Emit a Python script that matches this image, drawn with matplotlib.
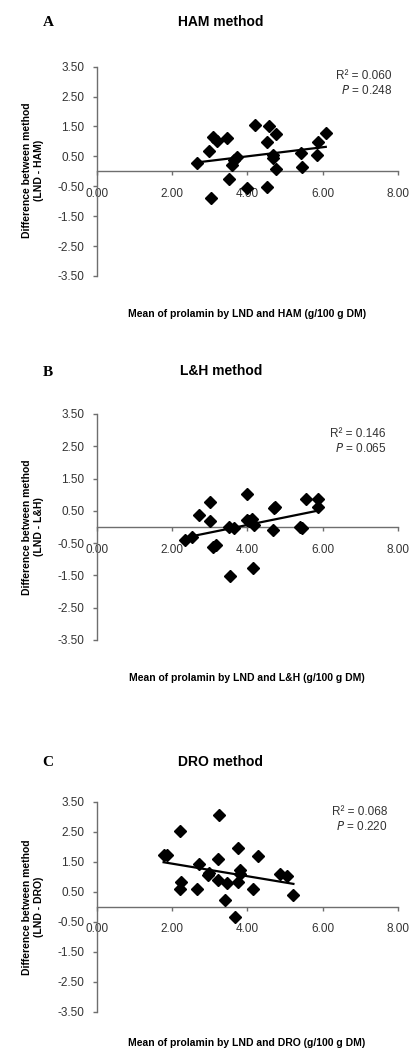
import numpy as np
import matplotlib
matplotlib.use('Agg')
import matplotlib.pyplot as plt

plt.rcParams['font.family'] = ['Liberation Sans', 'DejaVu Sans']

W, H = 410, 1052

# panel A: LND - HAM
ham_x = [2.65, 2.99, 3.09, 3.18, 3.45, 3.02, 3.52, 3.58, 3.63, 3.71, 3.98, 4.20,
         4.51, 4.51, 4.58, 4.76, 4.67, 4.69, 4.76, 5.42, 5.44, 5.85, 5.88, 6.08]
ham_y = [0.27, 0.68, 1.16, 1.02, 1.11, -0.90, -0.26, 0.21, 0.38, 0.49, -0.57, 1.55,
         -0.54, 0.99, 1.52, 1.25, 0.55, 0.43, 0.07, 0.60, 0.16, 0.55, 0.99, 1.29]

# panel B: LND - L&H
lh_x = [2.33, 2.52, 2.70, 3.01, 3.01, 3.09, 3.17, 3.52, 3.63, 3.54, 4.00, 3.98,
        4.12, 4.18, 4.14, 4.69, 4.71, 4.74, 5.39, 5.44, 5.55, 5.88, 5.88, 4.05]
lh_y = [-0.40, -0.32, 0.37, 0.78, 0.19, -0.61, -0.56, 0.01, -0.02, -1.51, 1.02, 0.22,
        0.24, 0.06, -1.28, -0.09, 0.58, 0.63, 0.01, -0.02, 0.86, 0.86, 0.61, 0.20]

# panel C: LND - DRO
dro_x = [1.77, 1.86, 2.21, 2.23, 2.21, 2.66, 2.70, 2.99, 2.95, 3.21, 3.21, 3.24,
         3.41, 3.46, 3.68, 3.75, 3.79, 3.79, 3.74, 4.15, 4.27, 4.86, 5.06, 5.22]
dro_y = [1.72, 1.72, 2.53, 0.81, 0.59, 0.58, 1.44, 1.13, 1.05, 1.58, 0.89, 3.06,
         0.22, 0.78, -0.33, 1.95, 1.22, 1.09, 0.83, 0.58, 1.70, 1.09, 1.02, 0.39]

panels = [
    ('A', 'HAM method', ham_x, ham_y, '(LND - HAM)',
     'Mean of prolamin by LND and HAM (g/100 g DM)', '0.060', '0.248'),
    ('B', 'L&H method', lh_x, lh_y, '(LND - L&H)',
     'Mean of prolamin by LND and L&H (g/100 g DM)', '0.146', '0.065'),
    ('C', 'DRO method', dro_x, dro_y, '(LND - DRO)',
     'Mean of prolamin by LND and DRO (g/100 g DM)', '0.068', '0.220'),
]

# pixel layout: axes top/bottom, title y, ylabel y, xlabel y, stats y, stats right
layout = [
    (66.7, 276.0, 22, 170, 314, 76, 392),
    (414.0, 640.0, 371, 527, 678, 434, 386),
    (801.7, 1011.7, 762, 907, 1043, 812, 387),
]

ax_left, ax_right = 97, 398


def fx(x):
    return x / W


def fy(y):
    return 1 - y / H


fig = plt.figure(figsize=(W / 100, H / 100), dpi=100)

for (letter, title, xs, ys, ylab2, xlab, r2, p), (top, bot, ty, yly, xly, sy, sx) in zip(panels, layout):
    ax = fig.add_axes([fx(ax_left), fy(bot), (ax_right - ax_left) / W, (bot - top) / H])
    xs = np.array(xs)
    ys = np.array(ys)
    ax.plot(xs, ys, 'D', color='black', markersize=6.5, clip_on=False, zorder=3)
    k, b = np.polyfit(xs, ys, 1)
    xl = np.array([xs.min(), xs.max()])
    ax.plot(xl, k * xl + b, color='black', linewidth=1.6, zorder=4)

    ax.set_xlim(0, 8)
    ax.set_ylim(-3.5, 3.5)
    ax.set_xticks(np.arange(0, 8.01, 2))
    ax.set_yticks(np.arange(-3.5, 3.51, 1))
    ax.xaxis.set_major_formatter(matplotlib.ticker.FormatStrFormatter('%.2f'))
    ax.yaxis.set_major_formatter(matplotlib.ticker.FormatStrFormatter('%.2f'))
    for s in ['top', 'right']:
        ax.spines[s].set_visible(False)
    ax.spines['bottom'].set_position(('data', 0))
    for s in ['left', 'bottom']:
        ax.spines[s].set_color('#6e6e6e')
        ax.spines[s].set_linewidth(1.0)
    ax.tick_params(axis='both', colors='#6e6e6e', labelcolor='#333333',
                   labelsize=8.5, length=3, width=1)
    ax.tick_params(axis='x', pad=9)
    ax.tick_params(axis='y', pad=6)
    ax.patch.set_alpha(0)

    fig.text(fx(48), fy(ty + 1), letter, family='Liberation Serif', weight='bold',
             fontsize=11, ha='center', va='center')
    fig.text(fx(221), fy(ty), title, weight='bold', fontsize=10, ha='center', va='center')
    fig.text(fx(33), fy(yly), 'Difference between method\n' + ylab2, weight='bold',
             fontsize=7.5, rotation=90, ha='center', va='center', multialignment='center',
             linespacing=1.3)
    fig.text(fx(247), fy(xly), xlab, weight='bold', fontsize=7.5, ha='center', va='center')
    fig.text(fx(sx), fy(sy), 'R² = ' + r2, fontsize=8.5, ha='right', va='center', color='#333333')
    fig.text(fx(sx), fy(sy + 15), '$\\it{P}$ = ' + p, fontsize=8.5, ha='right', va='center',
             color='#333333')

fig.savefig('out.png', dpi=100)
